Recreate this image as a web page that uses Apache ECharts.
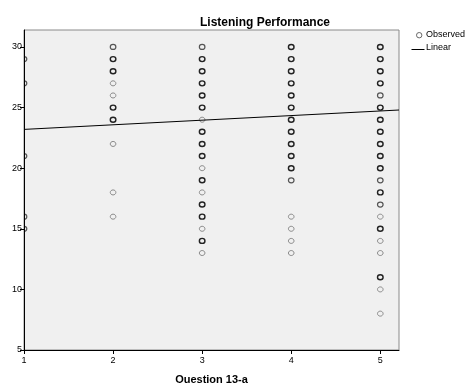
<!DOCTYPE html>
<html><head><meta charset="utf-8">
<script src="https://cdn.jsdelivr.net/npm/echarts@6/dist/echarts.min.js"></script>
<style>html,body{margin:0;padding:0;background:#fff}#c{width:468px;height:383px}</style>
</head><body><div id="c"></div>
<script>
// Observed values per Question 13-a category
const categories = [1, 2, 3, 4, 5];
const q1 = [29, 27, 21, 16, 15];
const q2 = [30, 29, 28, 27, 26, 25, 24, 22, 18, 16];
const q3 = [30, 29, 28, 27, 26, 25, 24, 23, 22, 21, 20, 19, 18, 17, 16, 15, 14, 13];
const q4 = [30, 29, 28, 27, 26, 25, 24, 23, 22, 21, 20, 19, 16, 15, 14, 13];
const q5 = [30, 29, 28, 27, 26, 25, 24, 23, 22, 21, 20, 19, 18, 17, 16, 15, 14, 13, 11, 10, 8];
// Overlap darkness of each marker (0 light, 1 medium, 2 dark), as seen in the picture
const s1 = [1, 1, 1, 1, 1];
const s2 = [1, 2, 2, 0, 0, 2, 2, 0, 0, 0];
const s3 = [1, 2, 2, 2, 2, 2, 0, 2, 2, 2, 0, 2, 0, 2, 2, 0, 2, 0];
const s4 = [2, 2, 2, 2, 2, 2, 2, 2, 2, 2, 2, 1, 0, 0, 0, 0];
const s5 = [2, 2, 2, 2, 1, 2, 2, 2, 2, 2, 2, 1, 2, 1, 0, 2, 0, 0, 2, 0, 0];
// Linear fit line endpoints
const lineX = [1, 5.21];
const lineY = [23.2, 24.8];
const yTicks = [5, 10, 15, 20, 25, 30];
const xTicks = [1, 2, 3, 4, 5];

const groups = [q1, q2, q3, q4, q5];
const shades = [s1, s2, s3, s4, s5];
const observed = [];
groups.forEach((g, i) => g.forEach((v, j) => observed.push([categories[i], v, shades[i][j]])));
const linear = lineX.map((x, i) => [x, lineY[i]]);

const shadeColor = ['#8a8a8a', '#555555', '#222222'];
const shadeWidth = [1, 1.2, 1.4];

const chart = echarts.init(document.getElementById('c'), null, {renderer: 'canvas'});
const font = 'Arial, "Liberation Sans", sans-serif';
chart.setOption({
  animation: false,
  title: {
    text: 'Listening Performance', left: 195, top: 12,
    textStyle: {fontFamily: font, fontSize: 12, fontWeight: 'bold', color: '#000'}
  },
  graphic: [
    {type: 'circle', left: 414, top: 30, shape: {r: 2.7}, style: {fill: 'none', stroke: '#666', lineWidth: 1}},
    {type: 'text', left: 426, top: 30, style: {text: 'Observed', font: '9px ' + font, fill: '#000'}},
    {type: 'line', left: 409, top: 47, shape: {x1: 0, y1: 0, x2: 13, y2: 0}, style: {stroke: '#000', lineWidth: 1}},
    {type: 'text', left: 426, top: 43, style: {text: 'Linear', font: '9px ' + font, fill: '#000'}}
  ],
  grid: {left: 24, right: 69, top: 30, bottom: 33, show: true, outerBoundsMode: 'none',
    backgroundColor: '#f0f0f0', borderColor: '#8a8a8a', borderWidth: 1},
  xAxis: {
    type: 'value', min: 1, max: 5.21, interval: 1,
    name: 'Question 13-a', nameLocation: 'middle', nameGap: 24,
    nameTextStyle: {fontFamily: font, fontSize: 11, fontWeight: 'bold', color: '#000'},
    axisLine: {show: true, lineStyle: {color: '#000', width: 1}},
    axisTick: {show: true, length: 4, lineStyle: {color: '#000'}, customValues: xTicks},
    axisLabel: {fontFamily: font, fontSize: 9, color: '#000', margin: 6, customValues: xTicks},
    splitLine: {show: false}, z: 5
  },
  yAxis: {
    type: 'value', min: 5, max: 31.4, interval: 5,
    axisLine: {show: true, lineStyle: {color: '#000', width: 1}},
    axisTick: {show: true, length: 4, lineStyle: {color: '#000'}, customValues: yTicks},
    axisLabel: {fontFamily: font, fontSize: 9, color: '#000', margin: 2, customValues: yTicks},
    splitLine: {show: false}, z: 5
  },
  series: [
    {
      name: 'Observed', type: 'custom', data: observed, clip: true,
      encode: {x: 0, y: 1},
      renderItem: function (params, api) {
        const p = api.coord([api.value(0), api.value(1)]);
        const s = api.value(2);
        return {type: 'ellipse', shape: {cx: p[0], cy: p[1], rx: 2.8, ry: 2.5},
          style: {fill: 'none', stroke: shadeColor[s], lineWidth: shadeWidth[s]}};
      }
    },
    {
      name: 'Linear', type: 'line', data: linear, symbol: 'none', z: 3,
      lineStyle: {color: '#000', width: 1}, itemStyle: {color: '#000'}
    }
  ]
});
</script></body></html>
